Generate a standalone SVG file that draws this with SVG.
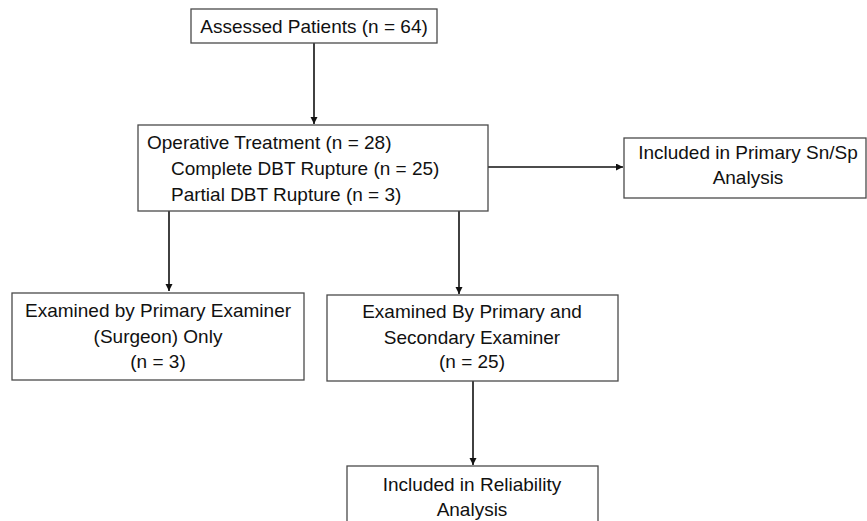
<svg xmlns="http://www.w3.org/2000/svg" width="867" height="521" viewBox="0 0 867 521">
<style>
.box{fill:#fff;stroke:#4a4a4a;stroke-width:1.3}
.t{font-family:"Liberation Sans",Arial,sans-serif;font-size:19px;fill:#111}
.c{text-anchor:middle}
.ln{stroke:#111;stroke-width:1.6;fill:none}
</style>
<defs>
<marker id="ah" markerUnits="userSpaceOnUse" markerWidth="8" markerHeight="8" refX="7" refY="3.5" orient="auto">
<path d="M0,0 L7,3.5 L0,7 z" fill="#111"/>
</marker>
</defs>
<rect width="867" height="521" fill="#fff"/>
<g id="connectors">
<line class="ln" x1="314" y1="43" x2="314" y2="124" marker-end="url(#ah)"/>
<line class="ln" x1="488" y1="167" x2="623" y2="167" marker-end="url(#ah)"/>
<line class="ln" x1="169" y1="211" x2="169" y2="291" marker-end="url(#ah)"/>
<line class="ln" x1="459" y1="211" x2="459" y2="294" marker-end="url(#ah)"/>
<line class="ln" x1="473" y1="381" x2="473" y2="465" marker-end="url(#ah)"/>
</g>
<g id="assessed">
<rect class="box" x="191" y="9" width="246" height="34"/>
<text class="t c" x="314" y="33">Assessed Patients (n = 64)</text>
</g>
<g id="operative">
<rect class="box" x="138" y="125" width="350" height="86"/>
<text class="t" x="147" y="149">Operative Treatment (n = 28)</text>
<text class="t" x="171" y="175">Complete DBT Rupture (n = 25)</text>
<text class="t" x="171" y="201">Partial DBT Rupture (n = 3)</text>
</g>
<g id="snsp">
<rect class="box" x="624" y="138" width="242" height="60"/>
<text class="t c" x="748" y="159">Included in Primary Sn/Sp</text>
<text class="t c" x="748" y="184">Analysis</text>
</g>
<g id="primary-only">
<rect class="box" x="12" y="293" width="292" height="87"/>
<text class="t c" x="158" y="317">Examined by Primary Examiner</text>
<text class="t c" x="158" y="343">(Surgeon) Only</text>
<text class="t c" x="158" y="368">(n = 3)</text>
</g>
<g id="primary-secondary">
<rect class="box" x="327" y="295" width="291" height="86"/>
<text class="t c" x="472" y="318">Examined By Primary and</text>
<text class="t c" x="472" y="344">Secondary Examiner</text>
<text class="t c" x="472" y="368">(n = 25)</text>
</g>
<g id="reliability">
<rect class="box" x="347" y="466" width="251" height="70"/>
<text class="t c" x="472" y="491">Included in Reliability</text>
<text class="t c" x="472" y="516">Analysis</text>
</g>
</svg>
